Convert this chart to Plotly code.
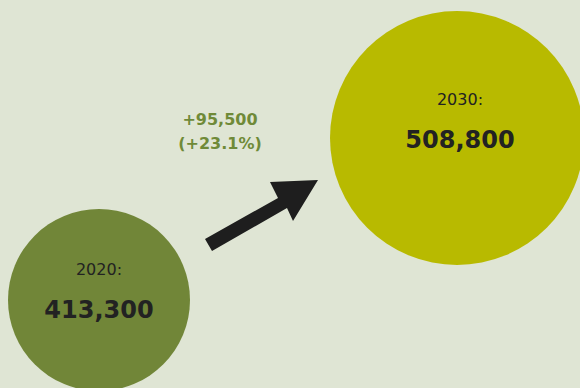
import plotly.graph_objects as go

# ---- data ----
years = ["2020", "2030"]
values = [413300, 508800]
change = values[1] - values[0]
pct = change / values[0] * 100

# ---- style / layout ----
W, H = 580, 388
bg = "#dfe5d4"
circle_colors = ["#718638", "#b8ba00"]
centers_x = [99, 457]
centers_y = [300, 138]
label_x = [99, 460]
year_label_y = [271, 101]
value_label_y = [312, 142]
r_range = [91, 127]  # radius range in px (size scale)

def radius(v):
    lo, hi = min(values), max(values)
    return r_range[0] + (v - lo) / (hi - lo) * (r_range[1] - r_range[0])

fig = go.Figure()

# circles drawn as markers whose size comes from the value scale
fig.add_trace(go.Scatter(
    x=centers_x, y=centers_y, mode="markers",
    marker=dict(size=[2 * radius(v) for v in values], color=circle_colors,
                line=dict(width=0), opacity=1),
    hoverinfo="skip", showlegend=False, cliponaxis=False,
))

# year labels
fig.add_trace(go.Scatter(
    x=label_x, y=year_label_y, mode="text",
    text=[f"{y}:" for y in years],
    textfont=dict(family="DejaVu Sans", size=16, color="#222222"),
    hoverinfo="skip", showlegend=False,
))
# value labels
fig.add_trace(go.Scatter(
    x=label_x, y=value_label_y, mode="text",
    text=[f"<b>{v:,}</b>" for v in values],
    textfont=dict(family="DejaVu Sans", size=24, color="#222222"),
    hoverinfo="skip", showlegend=False,
))
# change label
fig.add_trace(go.Scatter(
    x=[220, 220], y=[121, 145], mode="text",
    text=[f"<b>+{change:,}</b>", f"<b>(+{pct:.1f}%)</b>"],
    textfont=dict(family="DejaVu Sans", size=16, color="#6f8a38"),
    hoverinfo="skip", showlegend=False,
))

# arrow shape
arrow_path = ("M 205 239 L 278 198 L 270 182 L 318 180 L 293 221 "
              "L 287 208 L 212 251 Z")
fig.add_shape(type="path", path=arrow_path, xref="x", yref="y",
              fillcolor="#1e1e1e", line=dict(width=0), layer="above")

fig.update_layout(
    width=W, height=H, margin=dict(l=0, r=0, t=0, b=0),
    paper_bgcolor=bg, plot_bgcolor=bg,
    xaxis=dict(range=[0, W], visible=False, fixedrange=True),
    yaxis=dict(range=[H, 0], visible=False, fixedrange=True),
)

fig.write_html("out.html")
